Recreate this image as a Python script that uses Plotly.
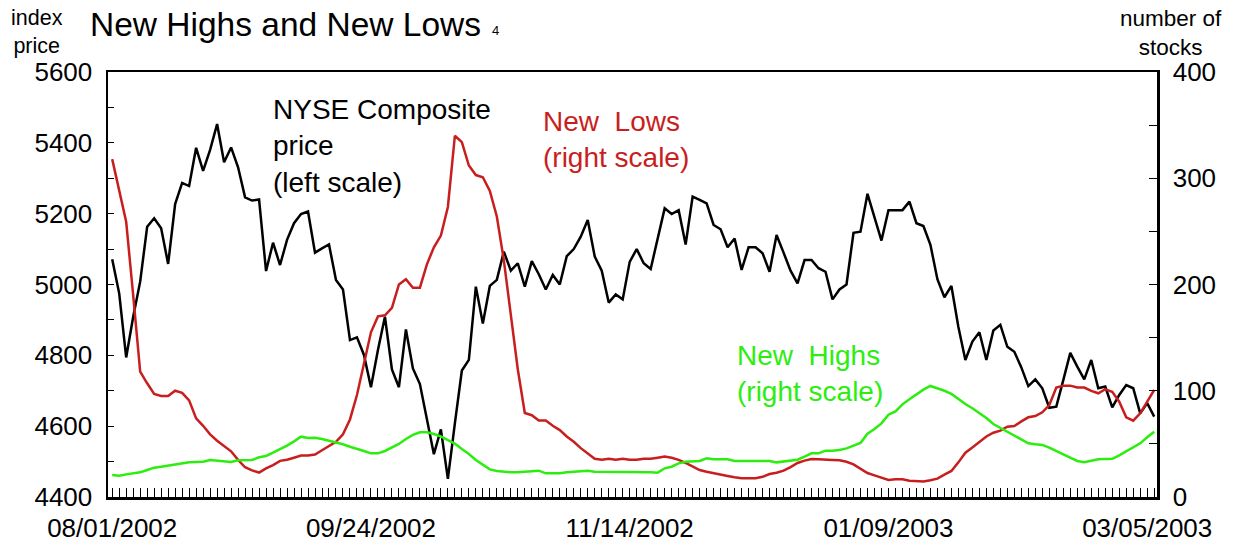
import plotly.graph_objects as go

# ---------------- data ----------------
tick_labels = ["08/01/2002", "09/24/2002", "11/14/2002", "01/09/2003", "03/05/2003"]
tick_index = [0, 37, 74, 111, 148]

nyse_price = [
    5071, 4975, 4794, 4909, 5008, 5163, 5187, 5159, 5058, 5227,
    5287, 5278, 5386, 5321, 5380, 5453, 5345, 5387, 5331, 5246,
    5237, 5240, 5038, 5118, 5055, 5126, 5173, 5199, 5206, 5090,
    5102, 5113, 5013, 4986, 4843, 4851, 4801, 4710, 4815, 4909,
    4760, 4710, 4873, 4763, 4719, 4617, 4521, 4591, 4451, 4608,
    4757, 4787, 4994, 4890, 4996, 5013, 5093, 5039, 5060, 4994,
    5066, 5029, 4986, 5027, 5000, 5080, 5100, 5135, 5182, 5079,
    5039, 4949, 4972, 4958, 5064, 5100, 5060, 5044, 5130, 5215,
    5199, 5210, 5113, 5248, 5239, 5229, 5168, 5156, 5105, 5130,
    5041, 5105, 5105, 5088, 5036, 5140, 5090, 5039, 5003, 5069,
    5069, 5046, 5036, 4958, 4986, 5000, 5146, 5149, 5256, 5191,
    5124, 5210, 5210, 5210, 5234, 5173, 5165, 5112, 5015, 4964,
    4996, 4880, 4787, 4839, 4865, 4787, 4870, 4886, 4824, 4810,
    4766, 4713, 4732, 4707, 4652, 4655, 4730, 4807, 4768, 4732,
    4787, 4707, 4712, 4653, 4688, 4716, 4707, 4636, 4665, 4627,
]

new_lows = [
    318, 290, 259, 190, 118, 107, 97, 95, 95, 100,
    98, 91, 74, 67, 59, 53, 48, 43, 35, 28,
    25, 23, 27, 30, 34, 35, 37, 39, 39, 40,
    44, 48, 52, 59, 73, 96, 126, 155, 170, 171,
    178, 200, 205, 197, 197, 219, 235, 246, 273, 340,
    334, 312, 303, 301, 288, 264, 223, 172, 120, 79,
    77, 72, 72, 67, 63, 57, 52, 46, 41, 36,
    35, 36, 35, 36, 35, 35, 36, 36, 37, 38,
    37, 35, 32, 28.5, 25.4, 23.8, 22.3, 21.4, 19.8, 18.5,
    17.6, 17.6, 17.6, 19, 21.6, 22.9, 24.8, 28.2, 32, 34.2,
    35.8, 35.5, 34.8, 34.8, 34.5, 33.2, 30.7, 26.7, 22.6, 20.4,
    17.9, 16, 16.6, 16.6, 15.4, 14.7, 14.7, 15.7, 17.3, 21,
    24.5, 32.6, 41.7, 46.7, 51.8, 57, 60.5, 62.4, 66.2, 66.8,
    71.2, 75, 76.2, 79.7, 86.6, 103, 104.8, 104.8, 103, 103,
    99.8, 97.6, 101.4, 99, 89.7, 75, 71.8, 78.8, 89.7, 100.7,
]

new_highs = [
    20.7, 20, 21.3, 22.3, 23.2, 25.4, 27.6, 28.5, 29.5, 31,
    32, 32.6, 33, 33.2, 34.8, 34.2, 33.2, 33, 34.5, 34.8,
    34.8, 37.4, 38.6, 41.7, 44.9, 48.3, 52.4, 56.8, 55.5, 55.8,
    54.6, 53, 51.8, 49.6, 47.3, 45.5, 43.3, 41.1, 41.1, 43.3,
    46.4, 49.9, 54.6, 58.4, 60.9, 60.9, 59.3, 57, 53.6, 50.2,
    45.2, 40.5, 34.8, 30.1, 26, 24.5, 23.8, 23.2, 23.2, 23.8,
    23.8, 24.8, 22.3, 22.3, 22.3, 23.2, 23.8, 24.5, 24.8, 23.8,
    23.8, 23.2, 23.8, 23.2, 23.2, 23.2, 23.2, 23.2, 22.9, 27,
    28.5, 31.7, 33.2, 33.9, 33.9, 36.4, 35.5, 35.5, 35.5, 33.9,
    33.9, 33.2, 33.2, 33.9, 33.9, 32.6, 33.6, 34.2, 35.1, 38,
    41.1, 41.1, 43.6, 43.6, 44.2, 45.8, 48, 50.8, 59.6, 64,
    69.3, 77.5, 80.6, 87.2, 92, 96.6, 101, 104.5, 102.6, 100,
    97, 92, 87.5, 83.5, 79, 74.4, 68.7, 65, 61.2, 58,
    54, 50.5, 49.6, 49, 46.4, 43.6, 40.2, 37, 33.9, 32.7,
    34.2, 35.5, 35.8, 36, 39.2, 43, 47.3, 50.5, 56.2, 61.5,
]

day_index = list(range(len(nyse_price)))

# ---------------- styling ----------------
FONT = "Liberation Sans, Arial, sans-serif"
BLACK = "#000000"
RED = "#C81E1E"
GREEN = "#2BEE0F"

W, H = 1233, 544
# plot frame in window pixels: x 108..1157, y 72..497
FL, FR, FT, FB = 108, 1157, 72, 497
L, T = FL, FT
R, B = W - FR, H - FB
PW, PH = W - L - R, H - T - B


def px(x_page):
    return (x_page - L) / PW


def py(y_page):
    return (H - B - y_page) / PH


fig = go.Figure()
fig.add_trace(go.Scatter(x=day_index, y=nyse_price, mode="lines",
                         line=dict(color=BLACK, width=2.5), yaxis="y",
                         showlegend=False, hoverinfo="skip"))
fig.add_trace(go.Scatter(x=day_index, y=new_lows, mode="lines",
                         line=dict(color=RED, width=2.5), yaxis="y2",
                         showlegend=False, hoverinfo="skip"))
fig.add_trace(go.Scatter(x=day_index, y=new_highs, mode="lines",
                         line=dict(color=GREEN, width=2.5), yaxis="y2",
                         showlegend=False, hoverinfo="skip"))

fig.update_layout(
    width=W, height=H,
    margin=dict(l=L, r=R, t=T, b=B, pad=0, autoexpand=False),
    paper_bgcolor="white", plot_bgcolor="white",
    font=dict(family=FONT, color="black"),
    xaxis=dict(
        range=[-0.6, 149.4], automargin=False,
        tickmode="array", tickvals=tick_index, ticktext=tick_labels,
        ticks="inside", ticklen=9, tickwidth=1, tickcolor="black",
        minor=dict(tickmode="linear", tick0=0, dtick=1, ticks="inside",
                   ticklen=9, tickwidth=1, tickcolor="black", showgrid=False),
        showline=True, linecolor="black", linewidth=2.5, mirror=True,
        showgrid=False, zeroline=False,
        tickfont=dict(size=26, family=FONT),
        ticklabelstandoff=6,
    ),
    yaxis=dict(
        range=[4400, 5600], tickmode="linear", tick0=4400, dtick=200, automargin=False,
        ticks="inside", ticklen=6, tickwidth=1, tickcolor="black",
        minor=dict(tickmode="linear", tick0=4400, dtick=100, ticks="inside",
                   ticklen=6, tickwidth=1, tickcolor="black", showgrid=False),
        showline=True, linecolor="black", linewidth=2.5,
        showgrid=False, zeroline=False,
        tickfont=dict(size=26, family=FONT),
        ticklabelstandoff=8,
    ),
    yaxis2=dict(
        range=[0, 400], overlaying="y", side="right", automargin=False,
        tickmode="linear", tick0=0, dtick=100,
        ticks="inside", ticklen=8, tickwidth=1, tickcolor="black",
        minor=dict(tickmode="linear", tick0=0, dtick=50, ticks="inside",
                   ticklen=8, tickwidth=1, tickcolor="black", showgrid=False),
        showline=True, linecolor="black", linewidth=2.5,
        showgrid=False, zeroline=False,
        tickfont=dict(size=26, family=FONT),
        ticklabelstandoff=8,
    ),
)

ann = [
    dict(text="New Highs and New Lows", x=px(88), y=py(4), xanchor="left", yanchor="top",
         font=dict(size=33.5, color="black")),
    dict(text="4", x=px(490), y=py(21), xanchor="left", yanchor="top",
         font=dict(size=13, color="black")),
    dict(text="index<br>price", x=px(9), y=py(4), xanchor="left", yanchor="top",
         align="center", font=dict(size=21.5, color="black")),
    dict(text="number of<br>stocks", x=px(1224), y=py(4), xanchor="right", yanchor="top",
         align="center", font=dict(size=22.5, color="black")),
    dict(text="NYSE Composite<br>price<br>(left scale)", x=px(271), y=py(92),
         xanchor="left", yanchor="top", align="left",
         font=dict(size=28, color="black")),
    dict(text="New  Lows<br>(right scale)", x=px(541), y=py(104),
         xanchor="left", yanchor="top", align="left",
         font=dict(size=28, color=RED)),
    dict(text="New  Highs<br>(right scale)", x=px(735), y=py(338),
         xanchor="left", yanchor="top", align="left",
         font=dict(size=28, color=GREEN)),
]
for a in ann:
    a.update(xref="paper", yref="paper", showarrow=False)
fig.update_layout(annotations=ann)

fig.write_html(
    "out.html",
    config={"displayModeBar": False, "staticPlot": True},
    post_script="document.body.style.margin='0';document.body.style.overflow='hidden';",
)
